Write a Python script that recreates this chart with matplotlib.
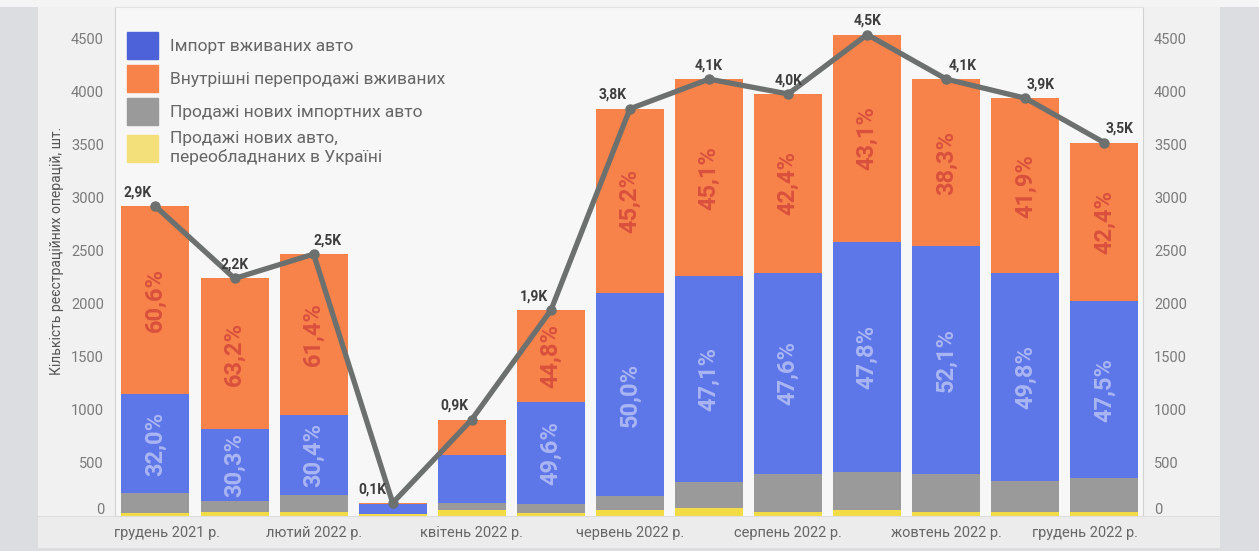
import numpy as np
import matplotlib
matplotlib.use("Agg")
import matplotlib.pyplot as plt
from matplotlib.patches import Rectangle, Patch
from matplotlib.transforms import ScaledTranslation

plt.rcParams['font.family'] = ['Roboto', 'DejaVu Sans']

# місяці (підписи на осі — через один)
months = ["грудень 2021 р.", "січень 2022 р.", "лютий 2022 р.", "березень 2022 р.",
          "квітень 2022 р.", "травень 2022 р.", "червень 2022 р.", "липень 2022 р.",
          "серпень 2022 р.", "вересень 2022 р.", "жовтень 2022 р.", "листопад 2022 р.",
          "грудень 2022 р."]

# кількість операцій по категоріях, шт.
new_ua = [32, 40, 40, 20, 54, 25, 55, 80, 40, 55, 40, 40, 40]
new_import = [184, 105, 162, 3, 66, 84, 129, 241, 358, 358, 355, 287, 316]
used_import = [934, 679, 751, 92, 455, 962, 1920, 1941, 1894, 2170, 2147, 1962, 1672]
resale = [1770, 1416, 1517, 8, 335, 869, 1736, 1858, 1688, 1957, 1578, 1651, 1492]

legend_labels = ["Імпорт вживаних авто",
                 "Внутрішні перепродажі вживаних",
                 "Продажі нових імпортних авто",
                 "Продажі нових авто,\nпереобладнаних в Україні"]

# зсув підписів підсумку вліво/вправо від точки, px
label_dx = [-18, 0, 14, -20, -17, -17, -17, 0, 0, 0, 16, 15, 15]

c_blue = "#5d76e8"
c_orange = "#f7834a"
c_gray = "#9a9a9a"
c_yellow = "#f2db44"

W, H = 1259, 551
fig = plt.figure(figsize=(W / 100, H / 100), dpi=100)
fig.patch.set_facecolor("#dcdde0")


def fig_rect(x0, y0, x1, y1, color, **kw):
    # прямокутник у пікселях від верхнього лівого кута
    r = Rectangle((x0 / W, 1 - y1 / H), (x1 - x0) / W, (y1 - y0) / H,
                  transform=fig.transFigure, facecolor=color, edgecolor="none",
                  zorder=-10, **kw)
    fig.patches.append(r)


# фон картки
fig_rect(38, 0, 1220, 548, "#f1f1f2")
fig_rect(0, 0, 1259, 7, "#f4f4f4")
fig_rect(38, 516, 1220, 548, "#ececec")
fig_rect(38, 516, 1220, 517, "#dedede")

ax = fig.add_axes([115 / W, 1 - 516 / H, (1143 - 115) / W, (516 - 7) / H])
ax.set_facecolor("#f7f7f7")

x = np.arange(len(months))
new_ua = np.array(new_ua)
new_import = np.array(new_import)
used_import = np.array(used_import)
resale = np.array(resale)
totals = new_ua + new_import + used_import + resale

bw = 0.86
b = np.zeros(len(x))
ax.bar(x, new_ua, bw, bottom=b, color=c_yellow, zorder=2)
b = b + new_ua
ax.bar(x, new_import, bw, bottom=b, color=c_gray, zorder=2)
b = b + new_import
ax.bar(x, used_import, bw, bottom=b, color=c_blue, zorder=2)
blue_bottom = b.copy()
b = b + used_import
ax.bar(x, resale, bw, bottom=b, color=c_orange, zorder=2)
orange_bottom = b.copy()

# відсотки всередині стовпців
for i in x:
    if totals[i] < 1000:
        continue
    p_blue = f"{100 * used_import[i] / totals[i]:.1f}%".replace(".", ",")
    p_orange = f"{100 * resale[i] / totals[i]:.1f}%".replace(".", ",")
    ax.text(i, blue_bottom[i] + used_import[i] / 2, p_blue, rotation=90,
            ha="center", va="center", fontsize=17, fontweight="bold",
            color="#aab5f4", zorder=3)
    ax.text(i, orange_bottom[i] + resale[i] / 2, p_orange, rotation=90,
            ha="center", va="center", fontsize=17, fontweight="bold",
            color="#d9503d", zorder=3)

# лінія загальної кількості
ax.plot(x, totals, color="#6c706f", lw=3.8, marker="o", ms=6.5,
        solid_joinstyle="round", zorder=4)
for i in x:
    lbl = f"{totals[i] / 1000:.1f}K".replace(".", ",")
    ax.annotate(lbl, (i, totals[i]), xytext=(label_dx[i] * 0.72, 10),
                textcoords="offset points", ha="center", va="center",
                fontsize=10, fontweight="semibold", color="#3d3d3d", zorder=5)

ax.set_xlim(-0.512, 12.488)
ax.set_ylim(0, 4800)
ax.set_yticks(np.arange(0, 5000, 500))
ax.set_xticks(x[::2])
ax.set_xticklabels(months[::2])
ax.tick_params(axis="x", length=0, pad=7, labelsize=10.5, labelcolor="#666666")
ax.tick_params(axis="y", length=0, labelsize=10.5, labelcolor="#7a7a7a",
               labelleft=True, labelright=True, pad=8)


def shift(label, dx, dy):
    label.set_transform(label.get_transform() +
                        ScaledTranslation(dx / 100, dy / 100, fig.dpi_scale_trans))


# крайні підписи осі X тримаються в межах області графіка
xt = ax.xaxis.get_major_ticks()
shift(xt[0].label1, 12, 0)
shift(xt[-1].label1, -19, 0)
# нуль піднятий над нижньою межею
yt = ax.yaxis.get_major_ticks()
shift(yt[0].label1, 0, 8)
shift(yt[0].label2, 0, 8)

for s in ["left", "right"]:
    ax.spines[s].set_color("#d2d2d2")
ax.spines["top"].set_color("#e2e2e2")
ax.spines["bottom"].set_color("#dcdcdc")

fig.text(57 / W, 1 - 251 / H, "Кількість реєстраційних операцій, шт.", rotation=90,
         ha="center", va="center", fontsize=10, color="#555555")

handles = [Patch(color=c) for c in ["#4d62d8", c_orange, c_gray, "#f4e07a"]]
ax.legend(handles, legend_labels, loc="upper left", bbox_to_anchor=(0.0117, 0.95),
          frameon=False, fontsize=12.5, handlelength=1.78, handleheight=2.0,
          handletextpad=0.7, labelspacing=0.35, borderpad=0, borderaxespad=0,
          labelcolor="#666666")

fig.savefig("out.png", dpi=100, facecolor=fig.get_facecolor())
